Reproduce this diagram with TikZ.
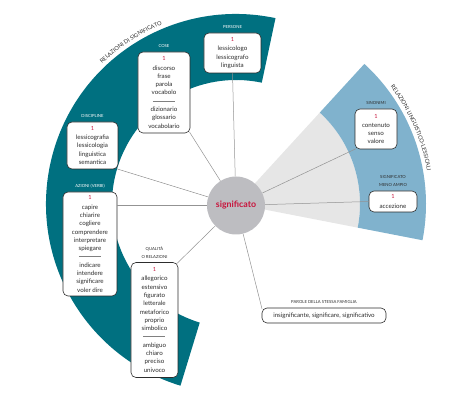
\documentclass[tikz,border=0pt]{standalone}
\usepackage{fontspec}
\setmainfont{Lato}
\usetikzlibrary{positioning,decorations.text}
\definecolor{cteal}{RGB}{0,112,128}
\definecolor{cblue}{RGB}{128,178,205}
\definecolor{clight}{RGB}{230,230,230}
\definecolor{ccircle}{RGB}{189,189,193}
\definecolor{cred}{RGB}{200,20,60}
\definecolor{cink}{RGB}{45,45,45}
\newcommand{\firstnum}{{\color{cred}\fontsize{5.6}{6}\selectfont 1}\\[1pt]}
\newcommand{\sepline}{\textcolor{gray}{\rule[2.2pt]{22pt}{0.4pt}}}
\tikzset{mapsec/.style={x=1pt,y=1pt}}
\tikzset{wordbox/.style={draw=cink,fill=white,rounded corners=5pt,line width=0.6pt,align=center,
           inner sep=0pt,text=cink,font=\fontsize{6.2}{8.3}\selectfont},
         tag/.style={inner sep=0pt,align=center,font=\fontsize{4.2}{8}\selectfont},
         spoke/.style={gray!85,line width=0.5pt},
         arclabel/.style={decorate,decoration={text along path,text align=center,text color=cink}}}

\begin{document}
\begin{tikzpicture}[mapsec]
    \useasboundingbox (-236,-215) rectangle (238,204);
    \fill[clight] (0,0) -- (-11:124) arc[start angle=-11,end angle=47.5,radius=124] -- cycle;
    \fill[cblue]  (-11:124) -- (-11:190) arc[start angle=-11,end angle=47.5,radius=190]
                  -- (47.5:124) arc[start angle=47.5,end angle=-11,radius=124] -- cycle;
    \fill[cteal]  (78:124) -- (78:190) arc[start angle=78,end angle=253,radius=190]
                  -- (253:124) arc[start angle=253,end angle=78,radius=124] -- cycle;   % teal band
    \path[arclabel,decoration={text={|\fontsize{5.6}{7}\selectfont|RELAZIONI DI SIGNIFICATO}}]
        (142:194) arc[start angle=142,end angle=104,radius=194];
    \path[arclabel,decoration={text={|\fontsize{5.6}{7}\selectfont|RELAZIONI LINGUISTICO-LESSICALI}}]
        (47:194) arc[start angle=47,end angle=0,radius=194];
    \node[circle,fill=ccircle,minimum size=58,inner sep=0pt,text=cred,
          font=\bfseries\fontsize{8.8}{10}\selectfont] (sig) at (0,-1.5) {significato};
    % boxes
    \node[wordbox,minimum width=57,minimum height=40] (pers) at (-3.5,151)
        {\firstnum lessicologo\\ lessicografo\\ linguista};
    \node[wordbox,minimum width=52,minimum height=81] (cose) at (-72,111.5)
        {\firstnum discorso\\ frase\\ parola\\ vocabolo\\ \sepline\\ dizionario\\ glossario\\ vocabolario};
    \node[wordbox,minimum width=51,minimum height=47] (disc) at (-143.5,58.5)
        {\firstnum lessicografia\\ lessicologia\\ linguistica\\ semantica};
    \node[wordbox,minimum width=54,minimum height=104] (azi) at (-146,-40)
        {\firstnum capire\\ chiarire\\ cogliere\\ comprendere\\ interpretare\\ spiegare\\ \sepline\\
         indicare\\ intendere\\ significare\\ voler dire};
    \node[wordbox,minimum width=47,minimum height=115] (qual) at (-81.5,-116)
        {\firstnum allegorico\\ estensivo\\ figurato\\ letterale\\ metaforico\\ proprio\\ simbolico\\ \sepline\\
         ambiguo\\ chiaro\\ preciso\\ univoco};
    \node[wordbox,minimum width=42,minimum height=40] (sin) at (140,75)
        {\firstnum contenuto\\ senso\\ valore};
    \node[wordbox,minimum width=48,minimum height=21] (amp) at (157,2.5)
        {\firstnum accezione};
    \node[wordbox,minimum width=124,minimum height=15] (par) at (88,-111.5)
        {insignificante, significare, significativo};
    % labels
    \node[tag,text=white,above=3.5pt of pers] (perslab) {PERSONE};
    \node[tag,text=white,above=3.5pt of cose] (coselab) {COSE};
    \node[tag,text=white,above=3.5pt of disc] (disclab) {DISCIPLINE};
    \node[tag,text=white,above=3.5pt of azi] (azilab) {AZIONI (VERBI)};
    \node[tag,text=cink,above=3.5pt of qual] (quallab) {QUALITÀ\\O RELAZIONI};
    \node[tag,text=cink,above=3.5pt of sin] (sinlab) {SINONIMI};
    \node[tag,text=cink,above=3.5pt of amp] (amplab) {SIGNIFICATO\\MENO AMPIO};
    \node[tag,text=cink,above=3.5pt of par] (parlab) {PAROLE DELLA STESSA FAMIGLIA};
    % spokes
    \draw[spoke] (sig) -- (pers.south);
    \draw[spoke,shorten >=-1.5pt] (sig) -- (cose.south east);
    \draw[spoke,shorten >=-1.5pt] (sig) -- (disc.south east);
    \draw[spoke] (sig) -- (azi.east |- sig);
    \draw[spoke,shorten >=-1.5pt] (sig) -- (qual.north east);
    \draw[spoke,shorten >=-1.5pt] (sig) -- (sin.south west);
    \draw[spoke] (sig) -- (amp.west);
    \draw[spoke,shorten >=-1.5pt] (sig) -- (par.north west);
\end{tikzpicture}
\end{document}
